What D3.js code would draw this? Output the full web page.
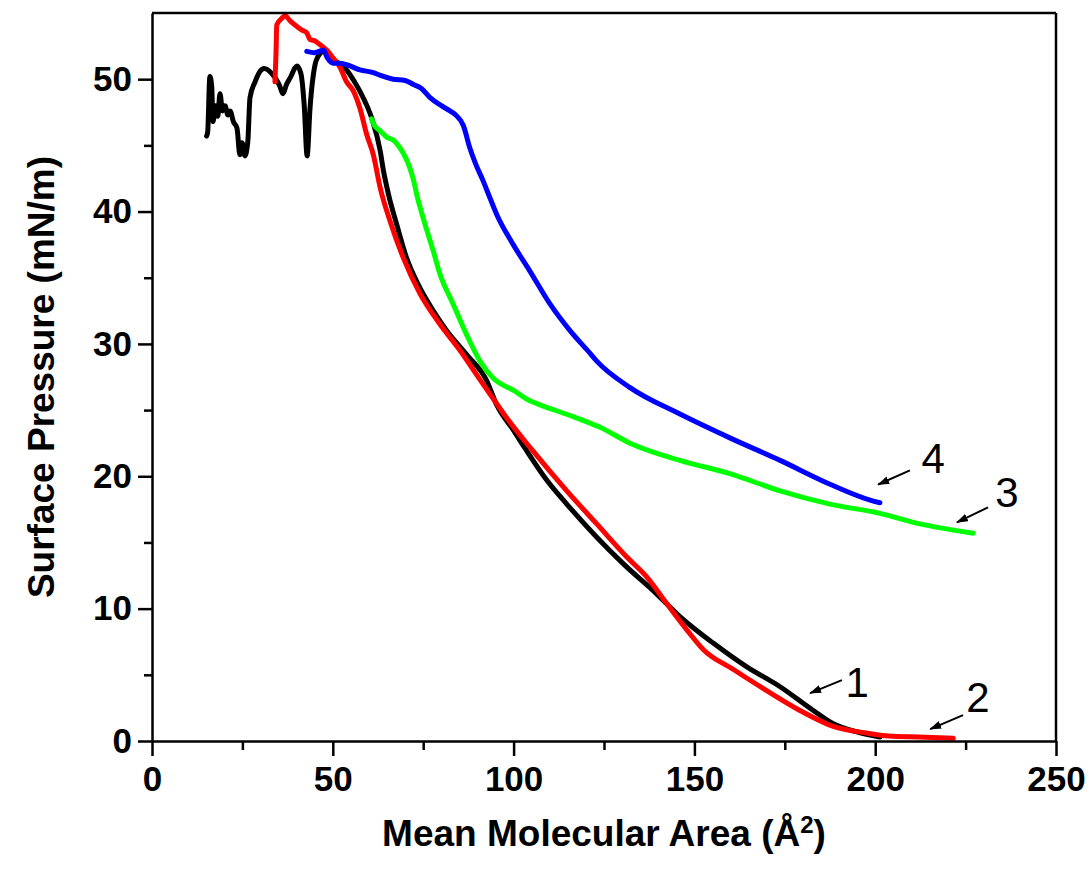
<!DOCTYPE html>
<html>
<head>
<meta charset="utf-8">
<script src="https://cdn.jsdelivr.net/npm/d3@7"></script>
<style>
  body { margin: 0; background: #fff; }
  svg { display: block; }
</style>
</head>
<body>
<div id="chart"></div>
<script>
// isotherm data (area in Å², pressure in mN/m)
const curve1 = [[15.1,45.7],[15.4,46.0],[16.0,50.2],[16.5,49.5],[16.9,46.8],[17.5,48.0],[18.2,47.2],[18.8,48.9],[19.5,47.6],[20.2,48.0],[21.0,47.3],[21.6,47.6],[22.5,46.8],[23.5,46.3],[24.3,44.3],[24.9,45.2],[25.7,44.2],[26.5,45.3],[27.1,48.6],[28.5,49.8],[29.9,50.6],[31.0,50.8],[33.2,50.4],[34.3,50.0],[35.3,49.5],[36.2,48.9],[37.2,49.6],[38.2,50.1],[40.1,51.0],[41.2,50.4],[42.1,48.0],[42.9,44.2],[43.7,47.8],[45.1,51.1],[45.9,51.7],[47.4,52.1],[50.0,51.5],[53.8,50.7],[56.0,49.8],[58.4,48.6],[60.7,47.1],[63.1,44.6],[64.0,43.1],[65.4,41.3],[67.7,39.0],[70.4,36.5],[73.6,34.5],[77.8,32.5],[81.5,31.0],[87.0,29.2],[92.6,27.2],[95.3,25.4],[99.9,23.5],[103.2,22.1],[109.2,19.7],[114.7,17.9],[123.0,15.4],[130.3,13.4],[139.6,11.1],[146.0,9.4],[155.2,7.4],[164.5,5.6],[173.7,4.1],[182.9,2.3],[188.4,1.3],[194.9,0.7],[201.3,0.3]];
const curve2 = [[34.0,49.8],[34.3,52.0],[34.5,54.1],[35.9,54.6],[36.8,54.8],[38.2,54.4],[40.0,54.0],[41.5,53.7],[42.8,53.5],[43.7,53.0],[45.0,52.9],[46.5,52.6],[48.3,52.2],[50.1,51.6],[52.0,50.9],[53.8,49.8],[55.7,49.1],[57.5,47.8],[59.4,45.8],[61.2,44.3],[63.1,41.8],[65.8,39.3],[69.5,36.5],[74.1,33.8],[79.6,31.5],[85.2,29.5],[90.7,27.3],[94.0,26.0],[98.1,24.4],[105.4,21.9],[114.7,18.9],[123.0,16.4],[131.3,13.9],[136.8,12.4],[142.3,10.4],[147.9,8.4],[152.5,6.9],[160.8,5.4],[170.0,3.8],[179.2,2.3],[188.4,1.1],[197.6,0.6],[205.0,0.35],[212.0,0.3],[221.6,0.2]];
const curve3 = [[60.7,47.0],[61.5,46.5],[63.1,46.1],[65.0,45.6],[66.7,45.4],[68.6,44.8],[69.5,44.4],[71.3,43.3],[72.3,42.4],[73.2,41.3],[75.0,39.5],[77.8,37.0],[79.6,35.3],[83.3,33.0],[87.0,30.7],[90.7,28.7],[94.4,27.4],[99.9,26.5],[104.5,25.7],[107.3,25.4],[116.5,24.5],[123.9,23.7],[132.2,22.5],[146.0,21.2],[159.8,20.2],[173.7,18.9],[187.5,17.9],[201.3,17.2],[212.4,16.4],[227.1,15.7]];
const curve4 = [[42.8,52.1],[45.0,52.0],[47.4,52.2],[48.5,51.6],[50.1,51.2],[52.0,51.2],[53.8,51.1],[57.5,50.7],[61.2,50.5],[63.0,50.3],[66.7,50.0],[70.0,49.9],[72.3,49.6],[74.5,49.3],[76.9,48.6],[80.0,48.0],[82.4,47.6],[84.0,47.3],[86.1,46.5],[87.9,44.8],[89.5,43.6],[91.6,42.3],[93.5,41.0],[95.3,39.8],[99.9,37.5],[104.5,35.5],[110.1,33.0],[115.6,31.0],[121.1,29.3],[123.0,28.7],[132.2,26.7],[146.0,24.7],[159.8,22.9],[173.7,21.2],[187.5,19.4],[198.6,18.2],[201.3,18.0]];

const seriesNames = ['1', '2', '3', '4'];
const seriesColors = ['#000000', '#ff0000', '#00ff00', '#0000ff'];

const xTicks = [0, 50, 100, 150, 200, 250];
const xMinorTicks = [25, 75, 125, 175, 225];
const yTicks = [0, 10, 20, 30, 40, 50];
const yMinorTicks = [5, 15, 25, 35, 45];

// curve labels: [text x, text y, arrow tail x, tail y, arrow head x, head y] in data units
const labelPos = [
    [195.0, 4.45, 190.8, 4.6, 182.0, 3.62],
    [228.4, 3.32, 224.3, 1.96, 215.2, 0.90],
    [236.4, 18.78, 231.2, 17.65, 222.6, 16.52],
    [216.0, 21.34, 209.6, 20.44, 200.8, 19.38]
];

const width = 1091, height = 878;
const margin = { top: 13, right: 35, bottom: 137, left: 152 };

const svg = d3.select('#chart').append('svg')
    .attr('width', width)
    .attr('height', height);

const x = d3.scaleLinear().domain([0, 250]).range([margin.left, width - margin.right]);
const y = d3.scaleLinear().domain([0, 55]).range([height - margin.bottom, margin.top]);

const defs = svg.append('defs');
defs.append('marker')
    .attr('id', 'arrow')
    .attr('viewBox', '0 0 12 8')
    .attr('refX', 11).attr('refY', 4)
    .attr('markerWidth', 6).attr('markerHeight', 4)
    .attr('markerUnits', 'strokeWidth')
    .attr('orient', 'auto')
    .append('path')
    .attr('d', 'M0,0 L12,4 L0,8 Z')
    .attr('fill', '#000');

const font = 'Liberation Sans, Arial, sans-serif';

// curves
const line = d3.line()
    .x(d => x(d[0]))
    .y(d => y(d[1]))
    .curve(d3.curveMonotoneX);
[curve1, curve2, curve3, curve4].forEach((c, i) => {
    svg.append('path')
        .datum(c)
        .attr('d', line)
        .attr('fill', 'none')
        .attr('stroke', seriesColors[i])
        .attr('stroke-width', 5)
        .attr('stroke-linejoin', 'round')
        .attr('stroke-linecap', 'round');
});

// box top/right
svg.append('line')
    .attr('x1', x(0)).attr('x2', x(250)).attr('y1', y(55)).attr('y2', y(55))
    .attr('stroke', '#000').attr('stroke-width', 2.5);
svg.append('line')
    .attr('x1', x(250)).attr('x2', x(250)).attr('y1', y(0)).attr('y2', y(55))
    .attr('stroke', '#000').attr('stroke-width', 2.5);

// x axis
svg.append('g')
    .attr('transform', `translate(0,${y(0)})`)
    .call(d3.axisBottom(x).tickValues(xTicks).tickSize(15).tickPadding(10).tickSizeOuter(0));
svg.append('g')
    .attr('transform', `translate(0,${y(0)})`)
    .call(d3.axisBottom(x).tickValues(xMinorTicks).tickSize(9).tickFormat('').tickSizeOuter(0))
    .select('.domain').remove();

// y axis
svg.append('g')
    .attr('transform', `translate(${x(0)},0)`)
    .call(d3.axisLeft(y).tickValues(yTicks).tickSize(14).tickPadding(6).tickSizeOuter(0));
svg.append('g')
    .attr('transform', `translate(${x(0)},0)`)
    .call(d3.axisLeft(y).tickValues(yMinorTicks).tickSize(8).tickFormat('').tickSizeOuter(0))
    .select('.domain').remove();

svg.selectAll('.domain, .tick line')
    .attr('stroke', '#000')
    .attr('stroke-width', 2.5);
svg.selectAll('.tick text')
    .attr('fill', '#000')
    .attr('font-family', font)
    .attr('font-weight', 'bold')
    .attr('font-size', '35px');

// axis titles
svg.append('text')
    .attr('x', (x(0) + x(250)) / 2)
    .attr('y', 846)
    .attr('text-anchor', 'middle')
    .attr('font-family', font)
    .attr('font-weight', 'bold')
    .attr('font-size', '37px')
    .html('Mean Molecular Area (Å<tspan baseline-shift="super" font-size="24px">2</tspan>)');

svg.append('text')
    .attr('transform', `translate(54,${(y(0) + y(55)) / 2}) rotate(-90)`)
    .attr('text-anchor', 'middle')
    .attr('font-family', font)
    .attr('font-weight', 'bold')
    .attr('font-size', '37px')
    .text('Surface Pressure (mN/m)');

// curve labels with arrows
labelPos.forEach((p, i) => {
    svg.append('line')
        .attr('x1', x(p[2])).attr('y1', y(p[3]))
        .attr('x2', x(p[4])).attr('y2', y(p[5]))
        .attr('stroke', '#000')
        .attr('stroke-width', 2)
        .attr('marker-end', 'url(#arrow)');
    svg.append('text')
        .attr('x', x(p[0]))
        .attr('y', y(p[1]))
        .attr('text-anchor', 'middle')
        .attr('dominant-baseline', 'central')
        .attr('font-family', font)
        .attr('font-size', '42px')
        .attr('fill', '#000')
        .text(seriesNames[i]);
});
</script>
</body>
</html>
